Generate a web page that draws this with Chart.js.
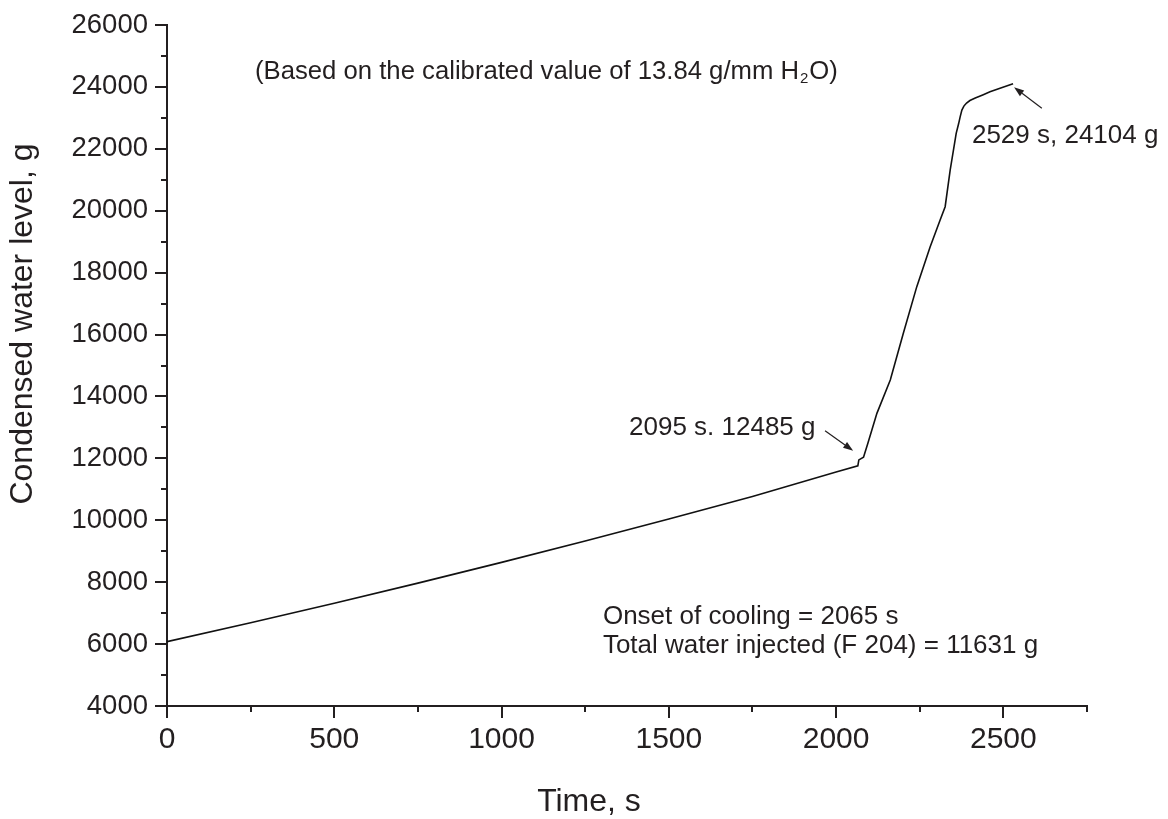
<!DOCTYPE html>
<html>
<head>
<meta charset="utf-8">
<script src="https://cdn.jsdelivr.net/npm/chart.js@4.4.1/dist/chart.umd.min.js"></script>
<style>
  html, body { margin: 0; padding: 0; background: #ffffff; }
</style>
</head>
<body>
<canvas id="levelChart" width="1168" height="819"></canvas>
<script>
// condensed water level record (time in s, level in g)
const timeSec = [0, 250, 500, 750, 1000, 1250, 1500, 1750, 2000, 2065, 2068, 2082,
  2095, 2122, 2162, 2201, 2241, 2281, 2311, 2326, 2341, 2359, 2366, 2371, 2376, 2382,
  2390, 2400, 2416, 2440, 2460, 2490, 2529];
const waterLevel = [6080, 6690, 7320, 7970, 8640, 9330, 10040, 10770, 11560, 11760, 11950, 12040,
  12485, 13454, 14530, 16040, 17540, 18830, 19700, 20130, 21310, 22500, 22800, 23040, 23250, 23380,
  23480, 23560, 23640, 23750, 23840, 23960, 24104];

const xMajor = [0, 500, 1000, 1500, 2000, 2500];
const xMinor = [250, 750, 1250, 1750, 2250, 2750];
const yMajor = [4000, 6000, 8000, 10000, 12000, 14000, 16000, 18000, 20000, 22000, 24000, 26000];
const yMinor = [5000, 7000, 9000, 11000, 13000, 15000, 17000, 19000, 21000, 23000, 25000];

const ink = '#231f20';
const face = '"Liberation Sans", Arial, Helvetica, sans-serif';

// text notes and arrows, placed in data units
const notes = [
  { text: '2529 s, 24104 g', t: 2406, g: 22188 },
  { text: '2095 s. 12485 g', t: 1381, g: 12755 },
  { text: 'Onset of cooling = 2065 s', t: 1303, g: 6649 },
  { text: 'Total water injected (F 204) = 11631 g', t: 1303, g: 5712 }
];
const arrows = [
  { from: [1967, 12894], to: [2051, 12248] },
  { from: [2615, 23309], to: [2532, 23987] }
];

const axisTicks = {
  id: 'axisTicks',
  afterDraw(chart) {
    const { ctx, chartArea, scales: { x, y } } = chart;
    ctx.save();
    ctx.strokeStyle = ink;
    ctx.lineWidth = 2;
    ctx.beginPath();
    const xt = (vals, len) => vals.forEach(v => {
      const px = Math.round(x.getPixelForValue(v));
      ctx.moveTo(px, chartArea.bottom);
      ctx.lineTo(px, chartArea.bottom + len);
    });
    const yt = (vals, len) => vals.forEach(v => {
      const py = Math.round(y.getPixelForValue(v));
      ctx.moveTo(chartArea.left, py);
      ctx.lineTo(chartArea.left - len, py);
    });
    xt(xMajor, 12); xt(xMinor, 6);
    yt(yMajor, 12); yt(yMinor, 6);
    ctx.stroke();
    ctx.restore();
  }
};

const annotations = {
  id: 'annotations',
  afterDraw(chart) {
    const { ctx, scales: { x, y } } = chart;
    ctx.save();
    ctx.fillStyle = ink;
    ctx.strokeStyle = ink;

    // calibration note with subscript
    ctx.font = '25.7px ' + face;
    ctx.textBaseline = 'alphabetic';
    let px = x.getPixelForValue(263);
    const py = y.getPixelForValue(24256);
    const head = '(Based on the calibrated value of 13.84 g/mm H';
    ctx.fillText(head, px, py);
    px += ctx.measureText(head).width;
    ctx.font = '15px ' + face;
    ctx.fillText('2', px + 1, py + 4);
    px += ctx.measureText('2').width + 2;
    ctx.font = '25.7px ' + face;
    ctx.fillText('O)', px, py);

    ctx.font = '26px ' + face;
    notes.forEach(n => ctx.fillText(n.text, x.getPixelForValue(n.t), y.getPixelForValue(n.g)));

    ctx.lineWidth = 1.2;
    arrows.forEach(a => {
      const x0 = x.getPixelForValue(a.from[0]), y0 = y.getPixelForValue(a.from[1]);
      const x1 = x.getPixelForValue(a.to[0]), y1 = y.getPixelForValue(a.to[1]);
      const ang = Math.atan2(y1 - y0, x1 - x0);
      const hl = 10, hw = 3.5;
      const bx = x1 - hl * Math.cos(ang), by = y1 - hl * Math.sin(ang);
      ctx.beginPath();
      ctx.moveTo(x0, y0);
      ctx.lineTo(bx, by);
      ctx.stroke();
      ctx.beginPath();
      ctx.moveTo(x1, y1);
      ctx.lineTo(bx + hw * Math.sin(ang), by - hw * Math.cos(ang));
      ctx.lineTo(bx - hw * Math.sin(ang), by + hw * Math.cos(ang));
      ctx.closePath();
      ctx.fill();
    });

    // axis titles
    ctx.font = '32px ' + face;
    ctx.textAlign = 'center';
    ctx.fillText('Time, s', 589, 811);
    ctx.translate(32, 324);
    ctx.rotate(-Math.PI / 2);
    ctx.fillText('Condensed water level, g', 0, 0);
    ctx.restore();
  }
};

new Chart(document.getElementById('levelChart').getContext('2d'), {
  type: 'line',
  data: {
    datasets: [{
      label: 'Condensed water level',
      data: timeSec.map((t, i) => ({ x: t, y: waterLevel[i] })),
      borderColor: '#111111',
      borderWidth: 1.6,
      pointRadius: 0,
      tension: 0,
      fill: false
    }]
  },
  options: {
    responsive: false,
    animation: false,
    devicePixelRatio: 1,
    layout: { padding: { top: 25, right: 81, left: 0, bottom: 0 } },
    plugins: { legend: { display: false }, tooltip: { enabled: false } },
    scales: {
      x: {
        type: 'linear',
        min: 0,
        max: 2750,
        afterBuildTicks: s => { s.ticks = xMajor.map(v => ({ value: v })); },
        afterFit: s => { s.height = 113; },
        grid: { display: true, drawOnChartArea: false, drawTicks: false },
        border: { display: true, color: ink, width: 2 },
        ticks: { color: ink, font: { family: face, size: 30 }, padding: 16, maxRotation: 0,
          autoSkip: false, callback: v => String(v) }
      },
      y: {
        type: 'linear',
        min: 4000,
        max: 26000,
        afterBuildTicks: s => { s.ticks = yMajor.map(v => ({ value: v })); },
        afterFit: s => { s.width = 167; s.paddingTop = 0; s.paddingBottom = 0; },
        grid: { display: true, drawOnChartArea: false, drawTicks: false },
        border: { display: true, color: ink, width: 2 },
        ticks: { color: ink, font: { family: face, size: 27.5 }, padding: 19, autoSkip: false,
          callback: v => String(v) }
      }
    }
  },
  plugins: [axisTicks, annotations]
});
</script>
</body>
</html>
